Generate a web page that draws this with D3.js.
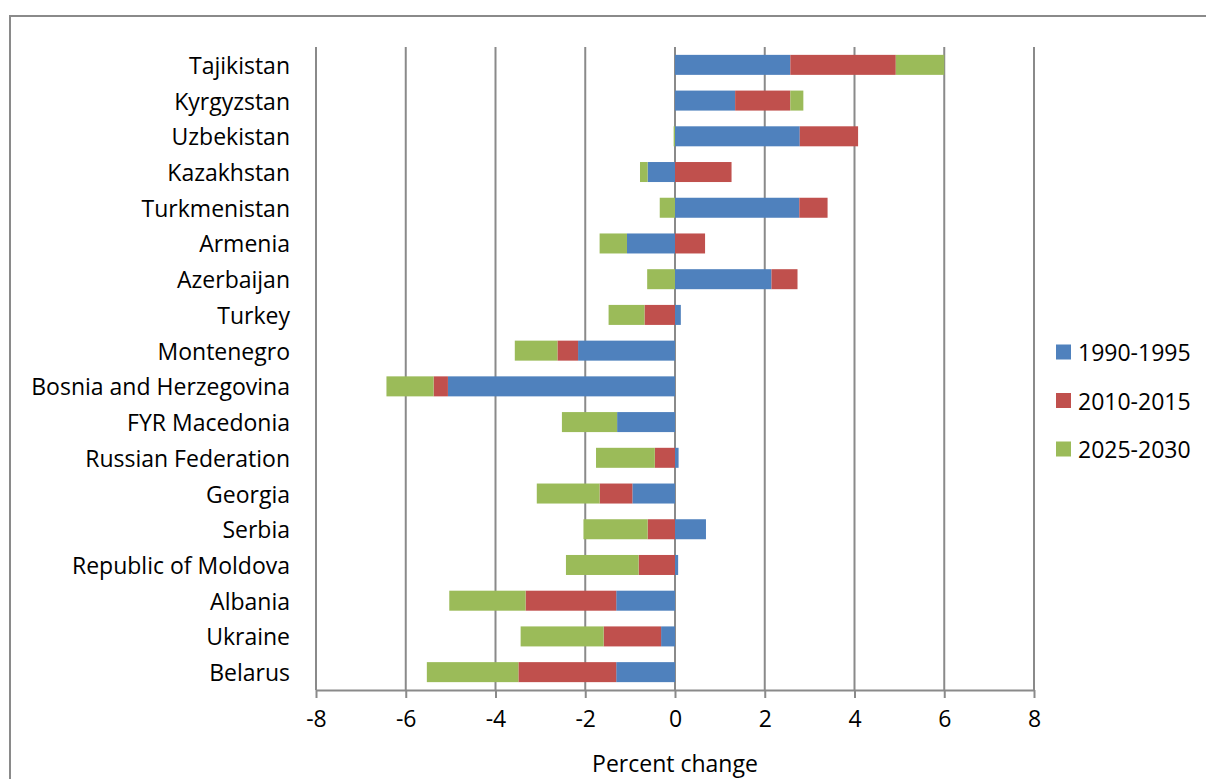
<!DOCTYPE html>
<html>
<head>
<meta charset="utf-8">
<script src="https://cdn.jsdelivr.net/npm/d3@7"></script>
<style>
  html, body { margin: 0; padding: 0; background: #fff; }
  svg { display: block; }
  text { font-family: "Open Sans", "Noto Sans", sans-serif; fill: #000; }
</style>
</head>
<body>
<svg id="chart" width="1206" height="779"></svg>
<script>
// Countries, top to bottom
const countries = [
  "Tajikistan", "Kyrgyzstan", "Uzbekistan", "Kazakhstan", "Turkmenistan",
  "Armenia", "Azerbaijan", "Turkey", "Montenegro", "Bosnia and Herzegovina",
  "FYR Macedonia", "Russian Federation", "Georgia", "Serbia",
  "Republic of Moldova", "Albania", "Ukraine", "Belarus"
];

// Percent change per period
const period1990 = [2.57, 1.34, 2.78, -0.61, 2.77, -1.07, 2.15, 0.13, -2.16, -5.06,
                    -1.29, 0.08, -0.95, 0.69, 0.07, -1.31, -0.31, -1.31];
const period2010 = [2.35, 1.23, 1.30, 1.26, 0.63, 0.67, 0.58, -0.68, -0.46, -0.32,
                    0.00, -0.45, -0.73, -0.61, -0.81, -2.02, -1.28, -2.18];
const period2025 = [1.08, 0.29, -0.03, -0.17, -0.34, -0.61, -0.62, -0.80, -0.95, -1.05,
                    -1.23, -1.31, -1.40, -1.43, -1.62, -1.70, -1.85, -2.04];

const seriesNames = ["1990-1995", "2010-2015", "2025-2030"];
const seriesColors = ["#4F81BD", "#C0504D", "#9BBB59"];
const xTicks = [-8, -6, -4, -2, 0, 2, 4, 6, 8];

const rows = countries.map((c, i) => ({
  country: c,
  "1990-1995": period1990[i],
  "2010-2015": period2010[i],
  "2025-2030": period2025[i]
}));

const svg = d3.select("#chart");
const gridColor = "#8a8a8a";
const fontSize = 23;

// Outer chart frame
svg.append("rect")
  .attr("x", 10).attr("y", 16)
  .attr("width", 1220).attr("height", 800)
  .attr("fill", "none").attr("stroke", gridColor).attr("stroke-width", 2);

const plot = { left: 316, right: 1034, top: 47, bottom: 690 };

const x = d3.scaleLinear().domain([-8, 8]).range([plot.left, plot.right]);
const y = d3.scaleBand().domain(countries)
  .range([plot.top, plot.bottom]).paddingInner(0.44).paddingOuter(0.22);

// Vertical gridlines
svg.append("g").selectAll("line").data(xTicks).join("line")
  .attr("x1", d => x(d)).attr("x2", d => x(d))
  .attr("y1", plot.top).attr("y2", plot.bottom)
  .attr("stroke", gridColor).attr("stroke-width", 2);

// Stacked bars, positive and negative parts diverging from zero
const stack = d3.stack().keys(seriesNames).offset(d3.stackOffsetDiverging);
const layers = stack(rows);

svg.append("g").selectAll("g").data(layers).join("g")
  .attr("fill", (d, i) => seriesColors[i])
  .selectAll("rect").data(d => d).join("rect")
  .attr("x", d => x(Math.min(d[0], d[1])))
  .attr("width", d => Math.abs(x(d[1]) - x(d[0])))
  .attr("y", d => y(d.data.country))
  .attr("height", y.bandwidth());

// Bottom value axis
const xAxis = svg.append("g")
  .attr("transform", `translate(0,${plot.bottom})`)
  .call(d3.axisBottom(x).tickValues(xTicks).tickSize(8).tickPadding(13).tickSizeOuter(0)
    .tickFormat(d => d < 0 ? "-" + Math.abs(d) : String(d)));
xAxis.select(".domain").attr("stroke", gridColor).attr("stroke-width", 2);
xAxis.selectAll(".tick line").attr("stroke", gridColor).attr("stroke-width", 2);
xAxis.selectAll(".tick text")
  .attr("font-size", fontSize).attr("font-family", "Open Sans, Noto Sans, sans-serif").attr("fill", "#000");

// Category labels
svg.append("g").selectAll("text").data(countries).join("text")
  .attr("x", 290)
  .attr("y", d => y(d) + y.bandwidth() / 2)
  .attr("text-anchor", "end")
  .attr("dominant-baseline", "central")
  .attr("font-size", fontSize)
  .text(d => d);

// Axis title
svg.append("text")
  .attr("x", x(0)).attr("y", 763)
  .attr("text-anchor", "middle")
  .attr("dominant-baseline", "central")
  .attr("font-size", fontSize)
  .text("Percent change");

// Legend
const legend = svg.append("g").selectAll("g").data(seriesNames).join("g")
  .attr("transform", (d, i) => `translate(1056,${352 + i * 48.5})`);
legend.append("rect")
  .attr("x", 0).attr("y", -7.5).attr("width", 15).attr("height", 15)
  .attr("fill", (d, i) => seriesColors[i]);
legend.append("text")
  .attr("x", 22).attr("y", 0)
  .attr("dominant-baseline", "central")
  .attr("font-size", fontSize)
  .text(d => d);
</script>
</body>
</html>
